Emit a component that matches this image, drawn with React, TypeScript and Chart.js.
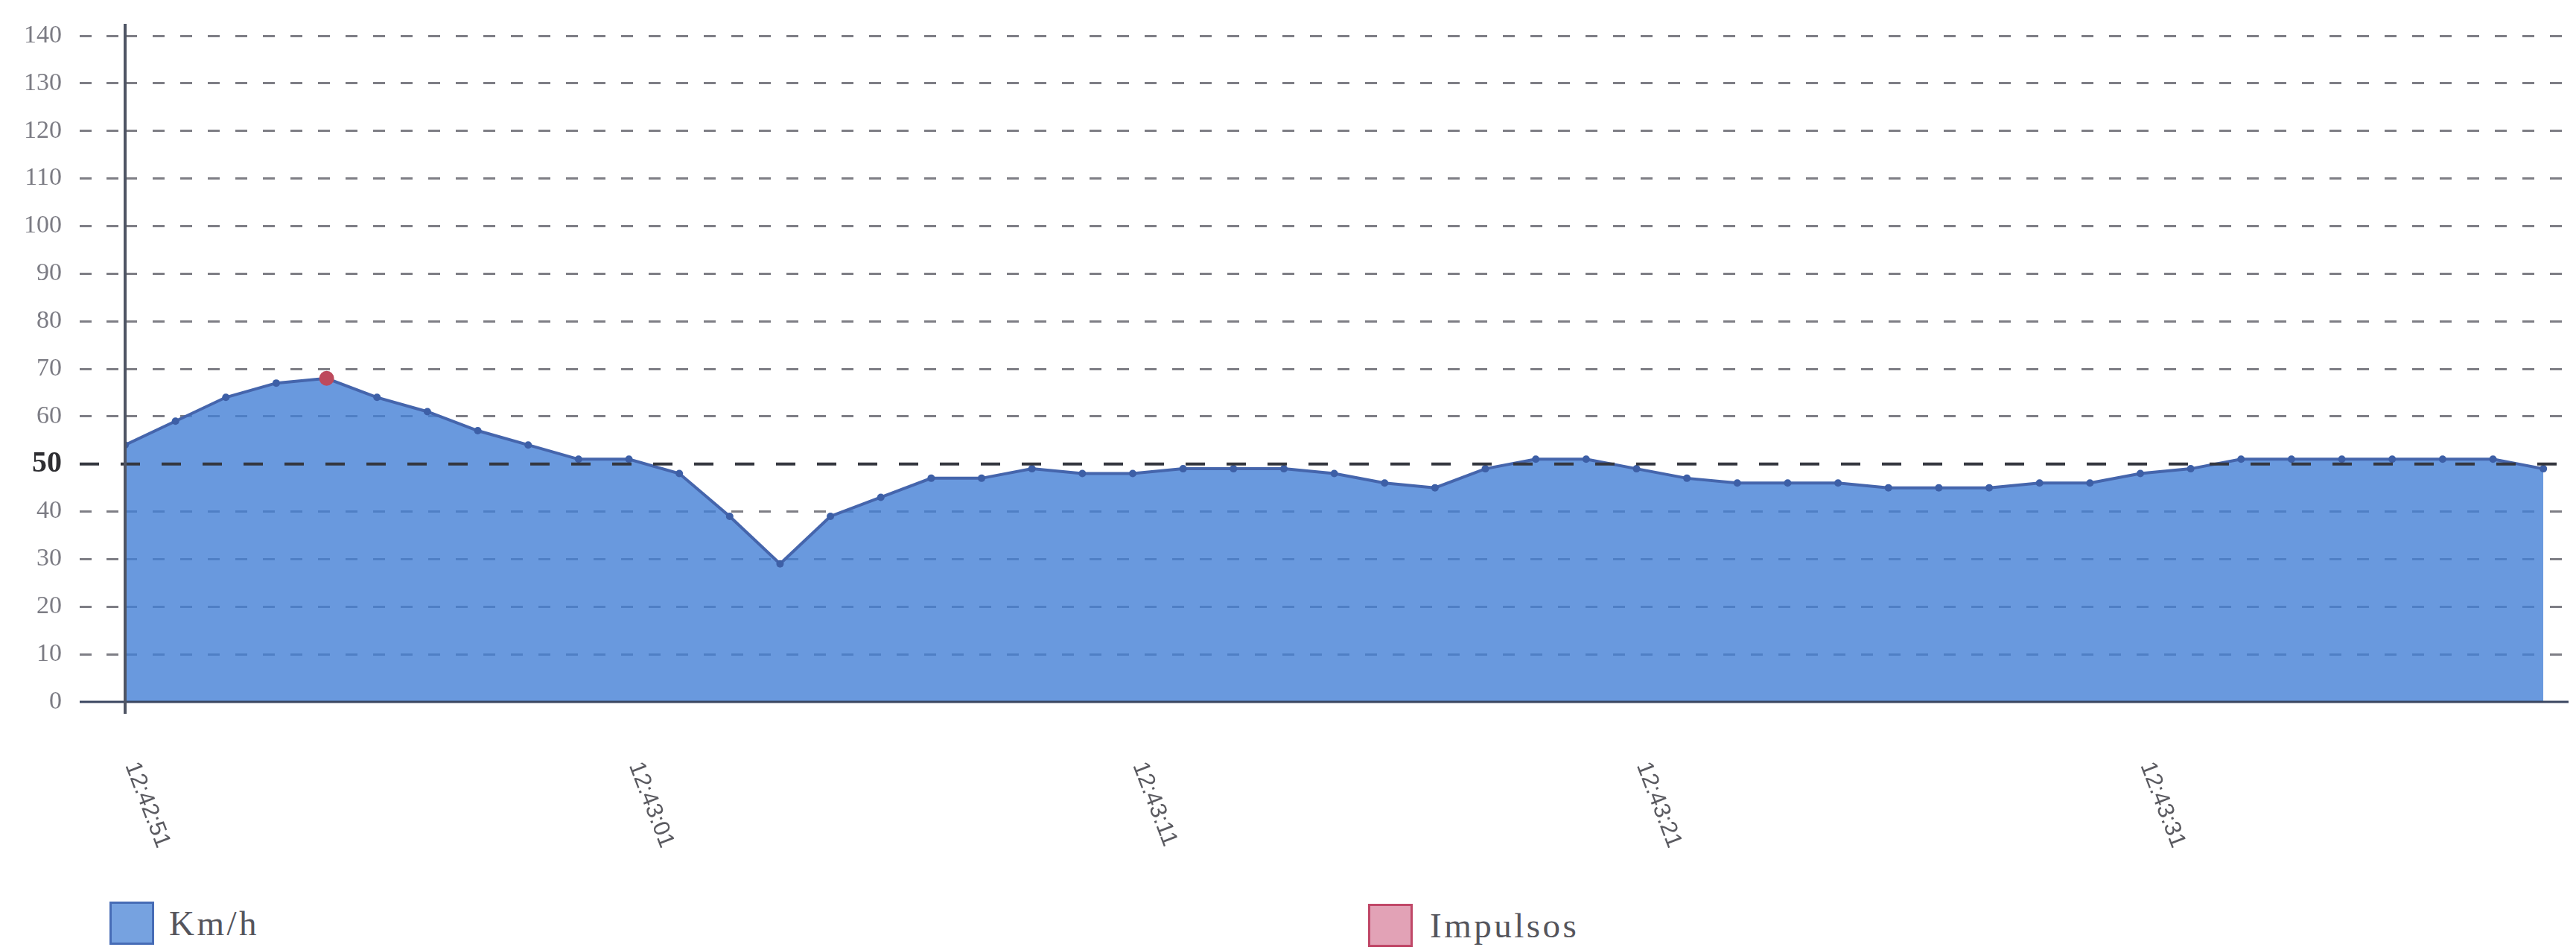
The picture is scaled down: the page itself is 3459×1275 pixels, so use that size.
import { useEffect, useRef } from 'react';
import { Chart, registerables } from 'chart.js';

Chart.register(...registerables);

// Time of each sample (one per second)
const TIMES = [
  '12:42:51', '12:42:52', '12:42:53', '12:42:54', '12:42:55', '12:42:56', '12:42:57', '12:42:58', '12:42:59', '12:43:00',
  '12:43:01', '12:43:02', '12:43:03', '12:43:04', '12:43:05', '12:43:06', '12:43:07', '12:43:08', '12:43:09', '12:43:10',
  '12:43:11', '12:43:12', '12:43:13', '12:43:14', '12:43:15', '12:43:16', '12:43:17', '12:43:18', '12:43:19', '12:43:20',
  '12:43:21', '12:43:22', '12:43:23', '12:43:24', '12:43:25', '12:43:26', '12:43:27', '12:43:28', '12:43:29', '12:43:30',
  '12:43:31', '12:43:32', '12:43:33', '12:43:34', '12:43:35', '12:43:36', '12:43:37', '12:43:38', '12:43:39',
];

// Km/h series
const KMH = [
  54, 59, 64, 67, 68, 64, 61, 57, 54, 51,
  51, 48, 39, 29, 39, 43, 47, 47, 49, 48,
  48, 49, 49, 49, 48, 46, 45, 49, 51, 51,
  49, 47, 46, 46, 46, 45, 45, 45, 46, 46,
  48, 49, 51, 51, 51, 51, 51, 51, 49,
];

// Impulsos series (sample index, value)
const IMPULSOS_AT = [4];
const IMPULSOS_VAL = [68];

const Y_TICKS = [0, 10, 20, 30, 40, 50, 60, 70, 80, 90, 100, 110, 120, 130, 140];
const LIMIT = 50;
const LABEL_EVERY = 10;

const W = 3459;
const H = 1180;
const TICK_LEN = 61;

const decorPlugin = {
  id: 'decor',
  afterDatasetsDraw(chart: any) {
    const { ctx, chartArea } = chart;
    const xs = chart.scales.x;
    const ys = chart.scales.y;
    ctx.save();

    // limit line (50)
    const yl = ys.getPixelForValue(LIMIT);
    ctx.beginPath();
    ctx.setLineDash([26, 29]);
    ctx.strokeStyle = '#34373f';
    ctx.lineWidth = 4;
    ctx.moveTo(chartArea.left - TICK_LEN, yl);
    ctx.lineTo(chartArea.right, yl);
    ctx.stroke();

    // baseline
    const y0 = ys.getPixelForValue(0);
    ctx.beginPath();
    ctx.setLineDash([]);
    ctx.strokeStyle = '#3a4660';
    ctx.lineWidth = 3;
    ctx.moveTo(chartArea.left - TICK_LEN, y0);
    ctx.lineTo(chartArea.right, y0);
    ctx.stroke();

    // y axis line
    ctx.beginPath();
    ctx.strokeStyle = '#4f5564';
    ctx.lineWidth = 4;
    ctx.moveTo(chartArea.left, chartArea.top - 16);
    ctx.lineTo(chartArea.left, chartArea.bottom + 16);
    ctx.stroke();

    // x labels, rotated clockwise
    ctx.fillStyle = '#5a5a60';
    ctx.font = '31px "Liberation Sans", Arial, sans-serif';
    ctx.textAlign = 'left';
    ctx.textBaseline = 'middle';
    TIMES.forEach((t, i) => {
      if (i % LABEL_EVERY !== 0) return;
      const x = xs.getPixelForValue(i);
      ctx.save();
      ctx.translate(x + 8, chartArea.bottom + 82);
      ctx.rotate((69 * Math.PI) / 180);
      ctx.fillText(t, 0, 0);
      ctx.restore();
    });

    ctx.restore();
  },
};

export default function App() {
  const ref = useRef<HTMLCanvasElement>(null);

  useEffect(() => {
    if (!ref.current) return;
    const chart = new Chart(ref.current, {
      type: 'line',
      data: {
        datasets: [
          {
            label: 'Km/h',
            data: KMH.map((y, x) => ({ x, y })),
            fill: 'origin',
            backgroundColor: 'rgba(68,128,214,0.8)',
            borderColor: '#4565ac',
            borderWidth: 4,
            pointRadius: 5,
            pointBackgroundColor: '#3d5fa6',
            pointBorderWidth: 0,
            tension: 0,
            order: 1,
          },
          {
            label: 'Impulsos',
            data: IMPULSOS_AT.map((x, k) => ({ x, y: IMPULSOS_VAL[k] })),
            showLine: false,
            fill: false,
            pointRadius: 10,
            pointBackgroundColor: '#bd4a5c',
            pointBorderWidth: 0,
            order: 0,
          },
        ],
      },
      options: {
        responsive: false,
        animation: false,
        devicePixelRatio: 1,
        layout: { padding: { top: 48, right: 7, bottom: H - 942, left: 0 } },
        plugins: {
          legend: { display: false },
          tooltip: { enabled: false },
        },
        scales: {
          x: {
            type: 'linear',
            min: 0,
            max: 48.5,
            display: false,
          },
          y: {
            min: 0,
            max: 140,
            afterFit: (s: any) => {
              s.width = 168;
            },
            afterBuildTicks: (s: any) => {
              s.ticks = Y_TICKS.map((v) => ({ value: v }));
            },
            border: {
              display: false,
              dash: (c: any) => [16, 21],
            },
            grid: {
              color: (c: any) =>
                c.tick && (c.tick.value === 0 || c.tick.value === LIMIT) ? 'rgba(0,0,0,0)' : 'rgba(112,112,120,0.9)',
              lineWidth: 3,
              tickLength: TICK_LEN,
              tickColor: (c: any) =>
                c.tick && (c.tick.value === 0 || c.tick.value === LIMIT) ? 'rgba(0,0,0,0)' : 'rgba(112,112,120,0.9)',
              tickWidth: 3,
              tickBorderDash: [16, 20],
            },
            ticks: {
              padding: 24,
              color: (c: any) => (c.tick && c.tick.value === LIMIT ? '#2e2e32' : '#7c7c84'),
              font: (c: any) =>
                c.tick && c.tick.value === LIMIT
                  ? { family: '"Liberation Serif", "Times New Roman", serif', size: 40, weight: 'bold' }
                  : { family: '"Liberation Serif", "Times New Roman", serif', size: 34 },
            },
          },
        },
      },
      plugins: [decorPlugin],
    } as any);
    return () => chart.destroy();
  }, []);

  const legendText: any = {
    position: 'absolute',
    top: 1210,
    height: 58,
    lineHeight: '58px',
    fontFamily: '"Liberation Serif", "Times New Roman", serif',
    fontSize: 47,
    letterSpacing: 3.5,
    color: '#55555c',
    whiteSpace: 'nowrap',
  };

  return (
    <div style={{ position: 'absolute', left: 0, top: 0, width: W, height: 1275, background: '#fff', overflow: 'hidden' }}>
      <canvas ref={ref} width={W} height={H} style={{ position: 'absolute', left: 0, top: 0, width: W, height: H }} />
      <div
        style={{
          position: 'absolute',
          left: 147,
          top: 1210,
          width: 54,
          height: 52,
          background: 'rgb(118,162,224)',
          border: '3px solid rgb(70,108,182)',
        }}
      />
      <div style={{ ...legendText, left: 227 }}>Km/h</div>
      <div
        style={{
          position: 'absolute',
          left: 1837,
          top: 1213,
          width: 54,
          height: 52,
          background: 'rgb(226,162,182)',
          border: '3px solid rgb(192,72,104)',
        }}
      />
      <div style={{ ...legendText, left: 1920, top: 1213 }}>Impulsos</div>
    </div>
  );
}
